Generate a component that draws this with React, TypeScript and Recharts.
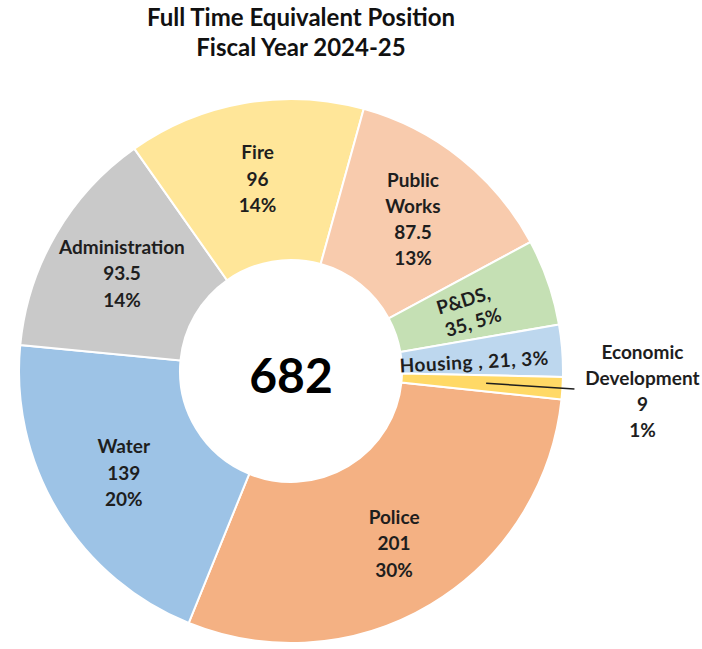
import React from 'react';
import { PieChart, Pie, Cell } from 'recharts';

// FTE positions by department, FY 2024-25 (clockwise from Police)
const departments = [
  'Police',
  'Water',
  'Administration',
  'Fire',
  'Public Works',
  'P&DS',
  'Housing',
  'Economic Development',
];
const positions = [201, 139, 93.5, 96, 87.5, 35, 21, 9];
// percentages as printed on the chart
const percentLabels = ['30%', '20%', '14%', '14%', '13%', '5%', '3%', '1%'];
const colors = ['#F4B183', '#9DC3E6', '#C9C9C9', '#FFE699', '#F8CBAD', '#C5E0B4', '#BDD7EE', '#FFD966'];
const totalLabel = '682';

const data = departments.map((name, i) => ({ name, value: positions[i] }));

const FONT = 'Lato, "Open Sans", sans-serif';
const TEXT = '#1e1e1e';
const RAD = Math.PI / 180;

const renderLabel = (props: any) => {
  const { cx, cy, midAngle, innerRadius, outerRadius, index } = props;
  const name = departments[index];
  const value = positions[index];
  const pct = percentLabels[index];
  const a = -midAngle * RAD;
  const at = (r: number) => ({ x: cx + r * Math.cos(a), y: cy + r * Math.sin(a) });
  const mid = (innerRadius + outerRadius) / 2;

  const common = {
    fill: TEXT,
    fontFamily: FONT,
    fontWeight: 700,
    fontSize: 19,
    textAnchor: 'middle' as const,
    dominantBaseline: 'central' as const,
  };

  // total in the hole, drawn once with the first slice
  const centre =
    index === 0 ? (
      <text
        x={cx}
        y={cy + 3}
        fill="#000"
        fontFamily={FONT}
        fontWeight={700}
        fontSize={48}
        textAnchor="middle"
        dominantBaseline="central"
      >
        {totalLabel}
      </text>
    ) : null;

  if (name === 'Economic Development') {
    const p1 = at(mid + 4);
    const p2 = at(outerRadius + 12);
    const tx = p2.x + 68;
    const lines = ['Economic', 'Development', String(value), pct];
    return (
      <g key={`lbl-${index}`}>
        <line x1={p1.x} y1={p1.y} x2={p2.x} y2={p2.y} stroke="#1e1e1e" strokeWidth={1.5} />
        {lines.map((t, i) => (
          <text key={i} {...common} x={tx} y={p2.y - 37 + i * 26}>
            {t}
          </text>
        ))}
      </g>
    );
  }

  if (name === 'Housing') {
    const p = at(mid - 3);
    return (
      <text
        key={`lbl-${index}`}
        {...common}
        x={p.x - 5}
        y={p.y + 4}
        letterSpacing={0.5}
        transform={`rotate(-3 ${p.x} ${p.y})`}
      >
        {`Housing , ${value}, ${pct}`}
      </text>
    );
  }

  if (name === 'P&DS') {
    const p = at(mid);
    return (
      <g key={`lbl-${index}`} transform={`rotate(-17 ${p.x} ${p.y})`}>
        <text {...common} x={p.x - 6} y={p.y - 11}>{`${name},`}</text>
        <text {...common} x={p.x - 3} y={p.y + 13}>{`${value}, ${pct}`}</text>
      </g>
    );
  }

  const lines =
    name === 'Public Works'
      ? ['Public', 'Works', String(value), pct]
      : [name, String(value), pct];
  const r = name === 'Police' ? mid + 9 : mid + 4;
  const p = at(r);
  const lh = name === 'Public Works' ? 26 : 26.5;
  return (
    <g key={`lbl-${index}`}>
      {centre}
      {lines.map((t, i) => (
        <text key={i} {...common} x={p.x} y={p.y + (i - (lines.length - 1) / 2) * lh}>
          {t}
        </text>
      ))}
    </g>
  );
};

export default function App() {
  return (
    <div style={{ position: 'absolute', left: 0, top: 0, width: 702, height: 649, background: '#fff' }}>
      <div
        style={{
          position: 'absolute',
          left: 0,
          top: 2,
          width: 602,
          textAlign: 'center',
          fontFamily: FONT,
          fontWeight: 700,
          fontSize: 24,
          lineHeight: '30px',
          color: '#111',
        }}
      >
        <div>Full Time Equivalent Position</div>
        <div>Fiscal Year 2024-25</div>
      </div>
      <PieChart width={702} height={649} margin={{ top: 0, right: 0, bottom: 0, left: 0 }}>
        <Pie
          data={data}
          dataKey="value"
          nameKey="name"
          cx={291}
          cy={371}
          innerRadius={111}
          outerRadius={272}
          startAngle={-6}
          endAngle={-366}
          stroke="#ffffff"
          strokeWidth={2}
          label={renderLabel}
          labelLine={false}
          isAnimationActive={false}
        >
          {data.map((d, i) => (
            <Cell key={d.name} fill={colors[i]} />
          ))}
        </Pie>
      </PieChart>
    </div>
  );
}
